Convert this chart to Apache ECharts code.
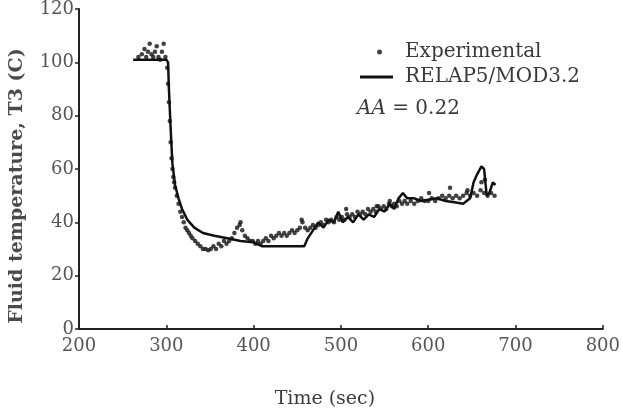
<!DOCTYPE html>
<html><head><meta charset="utf-8">
<script src="https://cdn.jsdelivr.net/npm/echarts@6/dist/echarts.min.js"></script>
<style>html,body{margin:0;padding:0;background:#fff}#c{width:623px;height:414px}</style>
</head><body><div id="c"></div>
<script>
const xTicks = [200, 300, 400, 500, 600, 700, 800];
const yTicks = [0, 20, 40, 60, 80, 100, 120];
const simTime = [262,300,302,303,305,307,310,314,318,324,332,342,355,370,385,400,410,458,462,468,474,480,486,492,497,502,508,514,520,526,532,538,544,550,556,561,566,571,576,584,592,600,610,620,630,640,648,652,656,661,664,667,670,674,677];
const simTemp = [101,101,100,90,75,62,54,49,45,41,38,36,35,34,33,32.5,31,31,34,37,40,38,41,40,44,40,42,40,43,41,43,42,45,44,47,45,49,51,49,49,48,48.5,49,48,47.5,47,49,55,58,61,60,50,51,55,54];
const expTime = [268,272,275,277,279,281,283,285,287,289,291,293,295,297,299,301,302,303,304,305,306,307,308,309,310,312,314,316,318,320,322,324,326,328,330,333,336,339,342,345,348,351,354,357,360,363,366,369,372,375,378,381,384,385,387,390,393,396,399,402,405,408,411,414,417,420,423,426,429,432,435,438,441,444,447,450,453,455,456,459,462,465,468,471,474,477,480,483,486,489,492,495,498,501,504,506,507,510,513,516,519,522,525,528,531,534,537,540,541,543,546,549,552,555,556,558,561,564,567,570,573,576,580,584,588,592,596,600,601,604,608,612,616,620,624,625,628,632,636,640,644,645,648,652,656,660,661,664,665,668,672,676];
const expTemp = [102,103,105,102,104,107,103,102,104,106,102,101,104,107,102,98,92,85,78,70,64,60,57,55,53,50,47,44,42,40,38,37,36,35,34,33,32,31,30,30,29.5,30,31,30,32,31,33,32,33,34,36,38,39,40,37,35,34,33,33,32,33,32,33,34,33,35,34,35,36,35,36,35,36,37,36,37,38,41,40,38,37,38,39,38,39,40,39,41,40,41,40,42,41,42,41,45,43,42,43,42,44,43,44,43,45,44,45,44,46,46,45,46,45,47,48,46,47,46,48,47,48,47,48,47,48,49,48,48,51,49,48,49,50,49,50,53,49,50,49,50,51,52,50,51,50,52,55,51,56,50,51,50];

const pair = (a, b) => a.map((t, i) => [t, b[i]]);
const FONT = 'DejaVu Serif';
const TXT = '#3a3a3a';
const chart = echarts.init(document.getElementById('c'), null, {renderer: 'canvas'});
chart.setOption({
  animation: false,
  backgroundColor: '#fff',
  grid: {left: 77, right: 12, top: 6, bottom: 70},
  xAxis: {
    type: 'value', min: xTicks[0], max: xTicks[xTicks.length - 1], interval: 100,
    name: 'Time (sec)', nameLocation: 'middle', nameGap: 61,
    nameTextStyle: {fontFamily: FONT, fontSize: 19, color: TXT, padding: [0, 32, 0, 0]},
    axisLine: {lineStyle: {color: '#222', width: 2}},
    axisTick: {inside: true, length: 4, lineStyle: {color: '#222', width: 1.5}},
    axisLabel: {fontFamily: FONT, fontSize: 18, color: '#555', margin: 8},
    splitLine: {show: false}
  },
  yAxis: {
    type: 'value', min: yTicks[0], max: yTicks[yTicks.length - 1], interval: 20,
    name: 'Fluid temperature, T3 (C)', nameLocation: 'middle', nameGap: 52,
    nameTextStyle: {fontFamily: FONT, fontSize: 19, fontWeight: 'bold', color: '#4a4a4a', padding: [0, 34, 0, 0]},
    axisLine: {lineStyle: {color: '#222', width: 2}},
    axisTick: {length: 4, lineStyle: {color: '#222', width: 1.5}},
    axisLabel: {fontFamily: FONT, fontSize: 18, color: '#555', margin: 5},
    splitLine: {show: false}
  },
  legend: [
    {data: ['Experimental'], orient: 'vertical', left: 372, top: 37, icon: 'circle',
     itemWidth: 5, itemHeight: 5,
     textStyle: {fontFamily: FONT, fontSize: 20, color: TXT, padding: [0, 0, 0, 18]}},
    {data: ['RELAP5/MOD3.2'], orient: 'vertical', left: 355, top: 62, icon: 'rect',
     itemWidth: 33, itemHeight: 3,
     textStyle: {fontFamily: FONT, fontSize: 20, color: TXT, padding: [0, 0, 0, 7]}}
  ],
  graphic: [{
    type: 'text', left: 357, top: 99,
    style: {
      text: '{i|AA} = 0.22', fontFamily: FONT, fontSize: 20, fill: TXT,
      rich: {i: {fontFamily: FONT, fontStyle: 'italic', fontSize: 20, color: TXT}}
    }
  }],
  series: [
    {name: 'Experimental', type: 'scatter', data: pair(expTime, expTemp),
     symbol: 'circle', symbolSize: 4.5, itemStyle: {color: '#111'}, z: 3},
    {name: 'RELAP5/MOD3.2', type: 'line', data: pair(simTime, simTemp),
     showSymbol: false, symbol: 'none', lineStyle: {color: '#111', width: 2.5}, itemStyle: {color: '#111'}, z: 2}
  ]
});
</script></body></html>
